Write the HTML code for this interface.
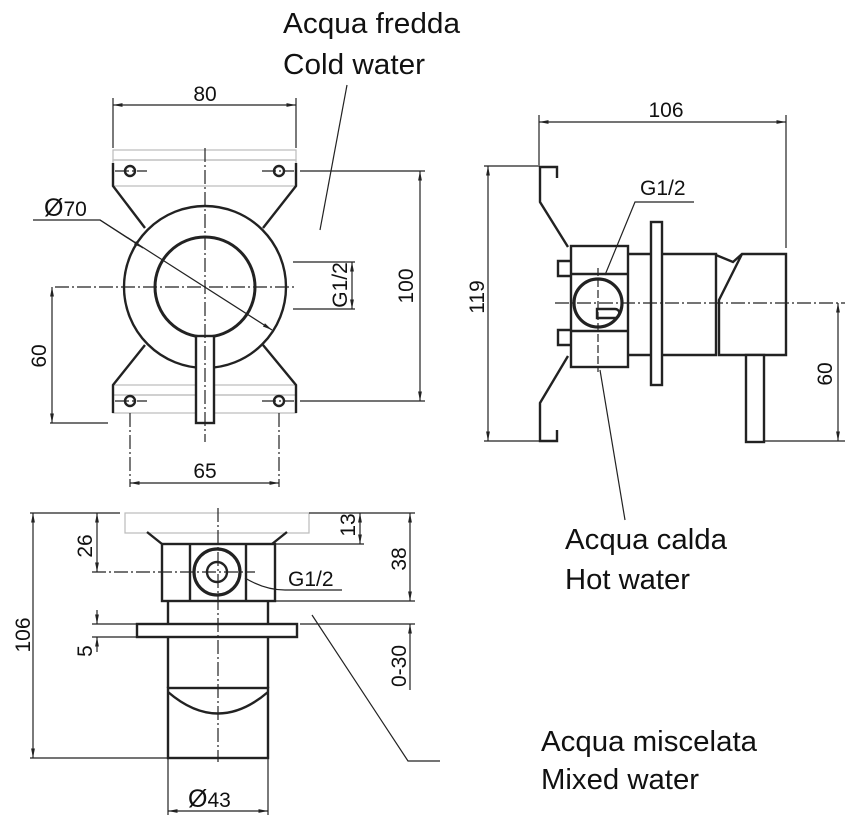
<!DOCTYPE html>
<html><head><meta charset="utf-8"><style>
html,body{margin:0;padding:0;background:#fff}
svg{display:block}
text{font-family:"Liberation Sans",sans-serif;fill:#111}
</style></head><body>
<svg width="853" height="826" viewBox="0 0 853 826" xmlns="http://www.w3.org/2000/svg">
<defs>
<marker id="a" viewBox="0 0 10 10" refX="10" refY="5" markerWidth="8" markerHeight="8" orient="auto-start-reverse"><path d="M0,3 L10,5 L0,7 z" fill="#222"/></marker>
</defs>
<g fill="none" stroke="#222" stroke-width="1.2">
<!-- ===== FRONT VIEW ===== -->
<line x1="113" y1="98" x2="113" y2="148"/><line x1="296" y1="98" x2="296" y2="148"/>
<line x1="113" y1="105" x2="296" y2="105" marker-start="url(#a)" marker-end="url(#a)"/>
<g stroke="#bbb"><rect x="113" y="150" width="183" height="10"/><rect x="113" y="160" width="183" height="26"/>
<rect x="113" y="385" width="183" height="10"/><rect x="113" y="395" width="183" height="18"/></g>
<g stroke-width="2.4">
<polyline points="113,163 113,186 145,228"/><polyline points="296,163 296,186 263,228"/>
<polyline points="145,345 113,385 113,413"/><polyline points="263,345 296,385 296,413"/>
<circle cx="130" cy="171" r="5"/><circle cx="279" cy="171" r="5"/>
<circle cx="130" cy="401" r="5"/><circle cx="279" cy="401" r="5"/>
<circle cx="205" cy="287" r="81"/><circle cx="205" cy="287" r="50" stroke-width="3"/>
<rect x="196" y="336" width="18" height="87" fill="#fff"/>
</g>
<g stroke-dasharray="14,3,2,3">
<line x1="205" y1="148" x2="205" y2="442"/><line x1="55" y1="287" x2="297" y2="287"/>
<line x1="115" y1="171" x2="147" y2="171"/><line x1="262" y1="171" x2="294" y2="171"/>
<line x1="115" y1="401" x2="147" y2="401"/><line x1="262" y1="401" x2="294" y2="401"/>
<line x1="130" y1="413" x2="130" y2="487"/><line x1="279" y1="413" x2="279" y2="487"/>
</g>
<line x1="130" y1="483" x2="279" y2="483" marker-start="url(#a)" marker-end="url(#a)"/>
<polyline points="33,220 100,220 272,330" marker-end="url(#a)"/>
<line x1="143" y1="248" x2="100" y2="220" marker-start="url(#a)"/>
<line x1="293" y1="262" x2="355" y2="262"/><line x1="293" y1="309" x2="355" y2="309"/>
<line x1="352" y1="262" x2="352" y2="309" marker-start="url(#a)" marker-end="url(#a)"/>
<line x1="300" y1="171" x2="425" y2="171"/><line x1="300" y1="401" x2="425" y2="401"/>
<line x1="420" y1="171" x2="420" y2="401" marker-start="url(#a)" marker-end="url(#a)"/>
<line x1="50" y1="423" x2="108" y2="423"/>
<line x1="52" y1="287" x2="52" y2="423" marker-start="url(#a)" marker-end="url(#a)"/>
<line x1="347" y1="85" x2="320" y2="230"/>

<!-- ===== SIDE VIEW ===== -->
<line x1="539" y1="115" x2="539" y2="165"/><line x1="786" y1="115" x2="786" y2="248"/>
<line x1="539" y1="122" x2="786" y2="122" marker-start="url(#a)" marker-end="url(#a)"/>
<line x1="484" y1="166" x2="540" y2="166"/><line x1="484" y1="441" x2="540" y2="441"/>
<line x1="488" y1="166" x2="488" y2="441" marker-start="url(#a)" marker-end="url(#a)"/>
<g stroke-width="2.4">
<polyline points="557,178 557,167 540,167 540,202 568,247"/>
<polyline points="557,430 557,441 540,441 540,403 568,356"/>
<rect x="571" y="246" width="57" height="121"/>
<line x1="571" y1="274" x2="628" y2="274"/><line x1="571" y1="331" x2="628" y2="331"/>
<polyline points="571,261 558,261 558,276 571,276"/><polyline points="571,330 558,330 558,345 571,345"/>
<circle cx="598" cy="303" r="24" stroke-width="3.2"/>
<path d="M597,309 h18 a4,4 0 0 1 0,9 h-18 z"/>
<rect x="651" y="222" width="11" height="163"/>
<polyline points="628,254 651,254"/><polyline points="628,355 651,355"/>
<polyline points="662,254 716,254 716,355 662,355"/>
<path d="M716,255 L733,262 L742,254 L786,254 L786,355 L719,355 L719,300 L742,254"/>
<rect x="746" y="355" width="18" height="87" fill="#fff"/>
</g>
<line x1="555" y1="303" x2="845" y2="303" stroke-dasharray="14,3,2,3"/>
<line x1="598" y1="268" x2="598" y2="372" stroke-dasharray="8,3"/>
<line x1="764" y1="441" x2="845" y2="441"/>
<line x1="838" y1="303" x2="838" y2="441" marker-start="url(#a)" marker-end="url(#a)"/>
<polyline points="694,202 635,202 605,275"/>
<line x1="600" y1="370" x2="625" y2="520"/>

<!-- ===== BOTTOM VIEW ===== -->
<rect x="125" y="513" width="184" height="20" stroke="#bbb"/>
<g stroke-width="2.4">
<polyline points="147,532 162,544"/><polyline points="287,532 272,544"/>
<rect x="162" y="544" width="113" height="57"/>
<line x1="190" y1="544" x2="190" y2="601"/><line x1="246" y1="544" x2="246" y2="601"/>
<circle cx="217" cy="572" r="23" stroke-width="3.2"/><circle cx="217" cy="572" r="10"/>
<polyline points="168,601 168,688"/><polyline points="268,601 268,688"/>
<rect x="137" y="624" width="160" height="13" fill="#fff"/>
<rect x="168" y="688" width="100" height="70"/>
<path d="M168,692 Q218,735 268,692"/>
</g>
<line x1="218" y1="508" x2="218" y2="762" stroke-dasharray="14,3,2,3"/>
<line x1="92" y1="572" x2="255" y2="572" stroke-dasharray="14,3,2,3"/>
<line x1="30" y1="513" x2="120" y2="513"/><line x1="30" y1="758" x2="168" y2="758"/>
<line x1="33" y1="513" x2="33" y2="758" marker-start="url(#a)" marker-end="url(#a)"/>
<line x1="97" y1="513" x2="97" y2="572" marker-start="url(#a)" marker-end="url(#a)"/>
<line x1="92" y1="624" x2="137" y2="624"/><line x1="92" y1="637" x2="137" y2="637"/>
<line x1="97" y1="610" x2="97" y2="624" marker-end="url(#a)"/><line x1="97" y1="652" x2="97" y2="637" marker-end="url(#a)"/>
<line x1="275" y1="544" x2="364" y2="544"/>
<line x1="360" y1="513" x2="360" y2="544" marker-start="url(#a)" marker-end="url(#a)"/>
<line x1="309" y1="513" x2="415" y2="513"/><line x1="275" y1="601" x2="415" y2="601"/><line x1="300" y1="624" x2="415" y2="624"/>
<line x1="410" y1="513" x2="410" y2="601" marker-start="url(#a)" marker-end="url(#a)"/>
<line x1="410" y1="624" x2="410" y2="690" marker-start="url(#a)"/>
<line x1="168" y1="758" x2="168" y2="815"/><line x1="268" y1="758" x2="268" y2="815"/>
<line x1="168" y1="811" x2="268" y2="811" marker-start="url(#a)" marker-end="url(#a)"/>
<path d="M245,578 Q265,590 285,590 L342,590"/>
<polyline points="312,615 408,761 440,761"/>
</g>

<!-- TEXT -->
<g font-size="21">
<text x="205" y="101" text-anchor="middle">80</text>
<text x="44" y="216"><tspan font-size="25">Ø</tspan>70</text>
<text x="205" y="478" text-anchor="middle">65</text>
<text transform="translate(347,285) rotate(-90)" text-anchor="middle">G1/2</text>
<text transform="translate(413,286) rotate(-90)" text-anchor="middle">100</text>
<text transform="translate(46,356) rotate(-90)" text-anchor="middle">60</text>
<text x="666" y="117" text-anchor="middle">106</text>
<text transform="translate(484,297) rotate(-90)" text-anchor="middle">119</text>
<text transform="translate(832,374) rotate(-90)" text-anchor="middle">60</text>
<text x="640" y="195">G1/2</text>
<text transform="translate(30,635) rotate(-90)" text-anchor="middle">106</text>
<text transform="translate(92,546) rotate(-90)" text-anchor="middle">26</text>
<text transform="translate(92,651) rotate(-90)" text-anchor="middle">5</text>
<text transform="translate(355,525) rotate(-90)" text-anchor="middle">13</text>
<text transform="translate(406,559) rotate(-90)" text-anchor="middle">38</text>
<text transform="translate(406,666) rotate(-90)" text-anchor="middle">0-30</text>
<text x="288" y="586">G1/2</text>
<text x="188" y="807"><tspan font-size="25">Ø</tspan>43</text>
</g>
<g font-size="29">
<text x="283" y="33" textLength="177" lengthAdjust="spacingAndGlyphs">Acqua fredda</text>
<text x="283" y="74" textLength="142" lengthAdjust="spacingAndGlyphs">Cold water</text>
<text x="565" y="549" textLength="162" lengthAdjust="spacingAndGlyphs">Acqua calda</text>
<text x="565" y="589" textLength="125" lengthAdjust="spacingAndGlyphs">Hot water</text>
<text x="541" y="751" textLength="216" lengthAdjust="spacingAndGlyphs">Acqua miscelata</text>
<text x="541" y="789" textLength="158" lengthAdjust="spacingAndGlyphs">Mixed water</text>
</g>
</svg>
</body></html>
